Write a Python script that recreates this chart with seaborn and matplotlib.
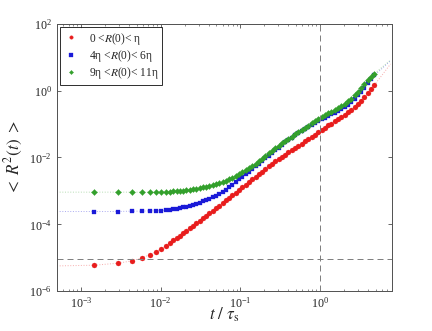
import matplotlib
matplotlib.use("Agg")
import matplotlib.pyplot as plt
import matplotlib.ticker as mticker
import numpy as np
import seaborn as sns

# time, in units of tau_s
t = [0.00145, 0.0029, 0.00435, 0.0058, 0.00725, 0.0087, 0.01015, 0.0116, 0.01305, 0.0145, 0.01595, 0.0174,
     0.0191, 0.0210, 0.0231, 0.0254, 0.0280, 0.0308, 0.0339, 0.0372, 0.0410, 0.0450, 0.0496, 0.0545,
     0.0600, 0.0660, 0.0726, 0.0798, 0.0878, 0.0966, 0.106, 0.117, 0.129, 0.141, 0.156, 0.171,
     0.188, 0.207, 0.228, 0.250, 0.275, 0.303, 0.333, 0.367, 0.403, 0.444, 0.488, 0.537,
     0.590, 0.650, 0.71, 0.79, 0.86, 0.95, 1.05, 1.15, 1.27, 1.39, 1.53, 1.69,
     1.86, 2.04, 2.25, 2.47, 2.72, 2.99, 3.29, 3.62, 3.98, 4.38, 4.82]

# <R^2(t)>, read as powers of ten off the log axis
red_exp = [-5.23, -5.17, -5.10, -5.01, -4.92, -4.83, -4.74, -4.65, -4.56, -4.48, -4.40, -4.34,
           -4.26, -4.19, -4.12, -4.05, -3.97, -3.90, -3.82, -3.75, -3.67, -3.60, -3.52, -3.45,
           -3.37, -3.29, -3.21, -3.13, -3.06, -2.98, -2.90, -2.82, -2.74, -2.66, -2.58, -2.50,
           -2.43, -2.35, -2.27, -2.19, -2.12, -2.05, -1.99, -1.92, -1.85, -1.79, -1.72, -1.66,
           -1.59, -1.52, -1.46, -1.38, -1.32, -1.24, -1.17, -1.11, -1.04, -0.99, -0.92, -0.86,
           -0.79, -0.72, -0.65, -0.58, -0.50, -0.40, -0.31, -0.20, -0.07, 0.05, 0.17]
blue_exp = [-3.62, -3.62, -3.61, -3.61, -3.60, -3.60, -3.59, -3.58, -3.57, -3.55, -3.53, -3.51,
            -3.49, -3.47, -3.45, -3.42, -3.39, -3.36, -3.32, -3.28, -3.24, -3.20, -3.15, -3.10,
            -3.03, -2.97, -2.90, -2.82, -2.74, -2.66, -2.59, -2.51, -2.43, -2.36, -2.27, -2.19,
            -2.11, -2.03, -1.95, -1.87, -1.79, -1.71, -1.63, -1.55, -1.48, -1.41, -1.34, -1.28,
            -1.22, -1.16, -1.10, -1.03, -0.98, -0.92, -0.86, -0.81, -0.76, -0.71, -0.66, -0.61,
            -0.56, -0.50, -0.42, -0.34, -0.24, -0.14, -0.03, 0.09, 0.22, 0.35, 0.46]
green_exp = [-3.04, -3.04, -3.04, -3.04, -3.04, -3.03, -3.03, -3.03, -3.03, -3.02, -3.01, -3.00,
             -3.00, -2.99, -2.97, -2.96, -2.94, -2.92, -2.90, -2.88, -2.85, -2.83, -2.80, -2.77,
             -2.74, -2.70, -2.66, -2.61, -2.56, -2.50, -2.45, -2.39, -2.33, -2.27, -2.19, -2.12,
             -2.04, -1.96, -1.88, -1.80, -1.72, -1.65, -1.58, -1.51, -1.44, -1.38, -1.31, -1.25,
             -1.18, -1.11, -1.05, -0.98, -0.92, -0.85, -0.79, -0.74, -0.68, -0.63, -0.58, -0.52,
             -0.47, -0.40, -0.32, -0.24, -0.14, -0.04, 0.07, 0.19, 0.31, 0.42, 0.51]

# faint dotted guides: level at the left edge and the continuation past the last point
t_head = [5e-4]
t_tail = [6.0, 7.7]
red_head, red_tail = [-5.25], [0.46, 0.80]
blue_head, blue_tail = [-3.62], [0.66, 0.90]
green_head, green_tail = [-3.04], [0.70, 0.92]

labels = ["0 <$R$(0)< η", "4η <$R$(0)< 6η", "9η <$R$(0)< 11η"]
noise_level = 9e-6

sns.set_style("ticks")
plt.rcParams["font.family"] = "serif"
plt.rcParams["font.serif"] = ["Liberation Serif", "DejaVu Serif"]
plt.rcParams["mathtext.fontset"] = "stix"

fig = plt.figure(figsize=(6, 4.6), dpi=72)
ax = fig.add_axes([0.132, 0.121, 0.775, 0.806])

series = [(red_exp, red_head, red_tail, "#e81c1c", "o", 5.0),
          (blue_exp, blue_head, blue_tail, "#1a1ad8", "s", 4.3),
          (green_exp, green_head, green_tail, "#33a02c", "D", 4.3)]

for (ex, head, tail, col, mk, ms), lab in zip(series, labels):
    tt = np.array(t_head + t + t_tail)
    yy = 10 ** np.array(head + ex + tail)
    sns.lineplot(x=tt, y=yy, ax=ax, color=col, alpha=0.35, lw=1.0, linestyle=":",
                 estimator=None, sort=False)
    ax.plot(t, 10 ** np.array(ex), linestyle="none", marker=mk, ms=ms,
            color=col, mec=col, mew=0.3, label=lab)

ax.axhline(noise_level, color="#808080", lw=1.0, dashes=(6, 4))
ax.axvline(1.0, color="#808080", lw=1.0, dashes=(6, 4))

ax.set_xscale("log")
ax.set_yscale("log")
ax.set_xlim(5e-4, 8)
ax.set_ylim(1e-6, 1e2)
ax.yaxis.set_major_locator(mticker.LogLocator(base=100))
ax.yaxis.set_minor_locator(mticker.NullLocator())
ax.xaxis.set_minor_locator(mticker.LogLocator(base=10, subs=np.arange(2, 10)))

ax.tick_params(which="both", direction="in", top=True, right=True,
               labelsize=12, color="#444444")
ax.tick_params(which="major", length=4, width=0.8, pad=5)
ax.tick_params(which="minor", length=2, width=0.6)
for s in ax.spines.values():
    s.set_color("#555555")
    s.set_linewidth(1.0)

ax.set_xlabel(r"$t\ /\ \tau_{\rm s}$", fontsize=17, labelpad=-5)
ax.set_ylabel(r"$<\ R^{2}(t)\ >$", fontsize=17, labelpad=4)

leg = ax.legend(loc="upper left", fontsize=11.5, frameon=True, fancybox=False,
                edgecolor="black", borderaxespad=0.25, handlelength=1.3,
                handletextpad=0.9, borderpad=0.3, labelspacing=0.12, markerscale=0.7)
leg.get_frame().set_linewidth(1.0)

fig.savefig("out.png", dpi=72)
